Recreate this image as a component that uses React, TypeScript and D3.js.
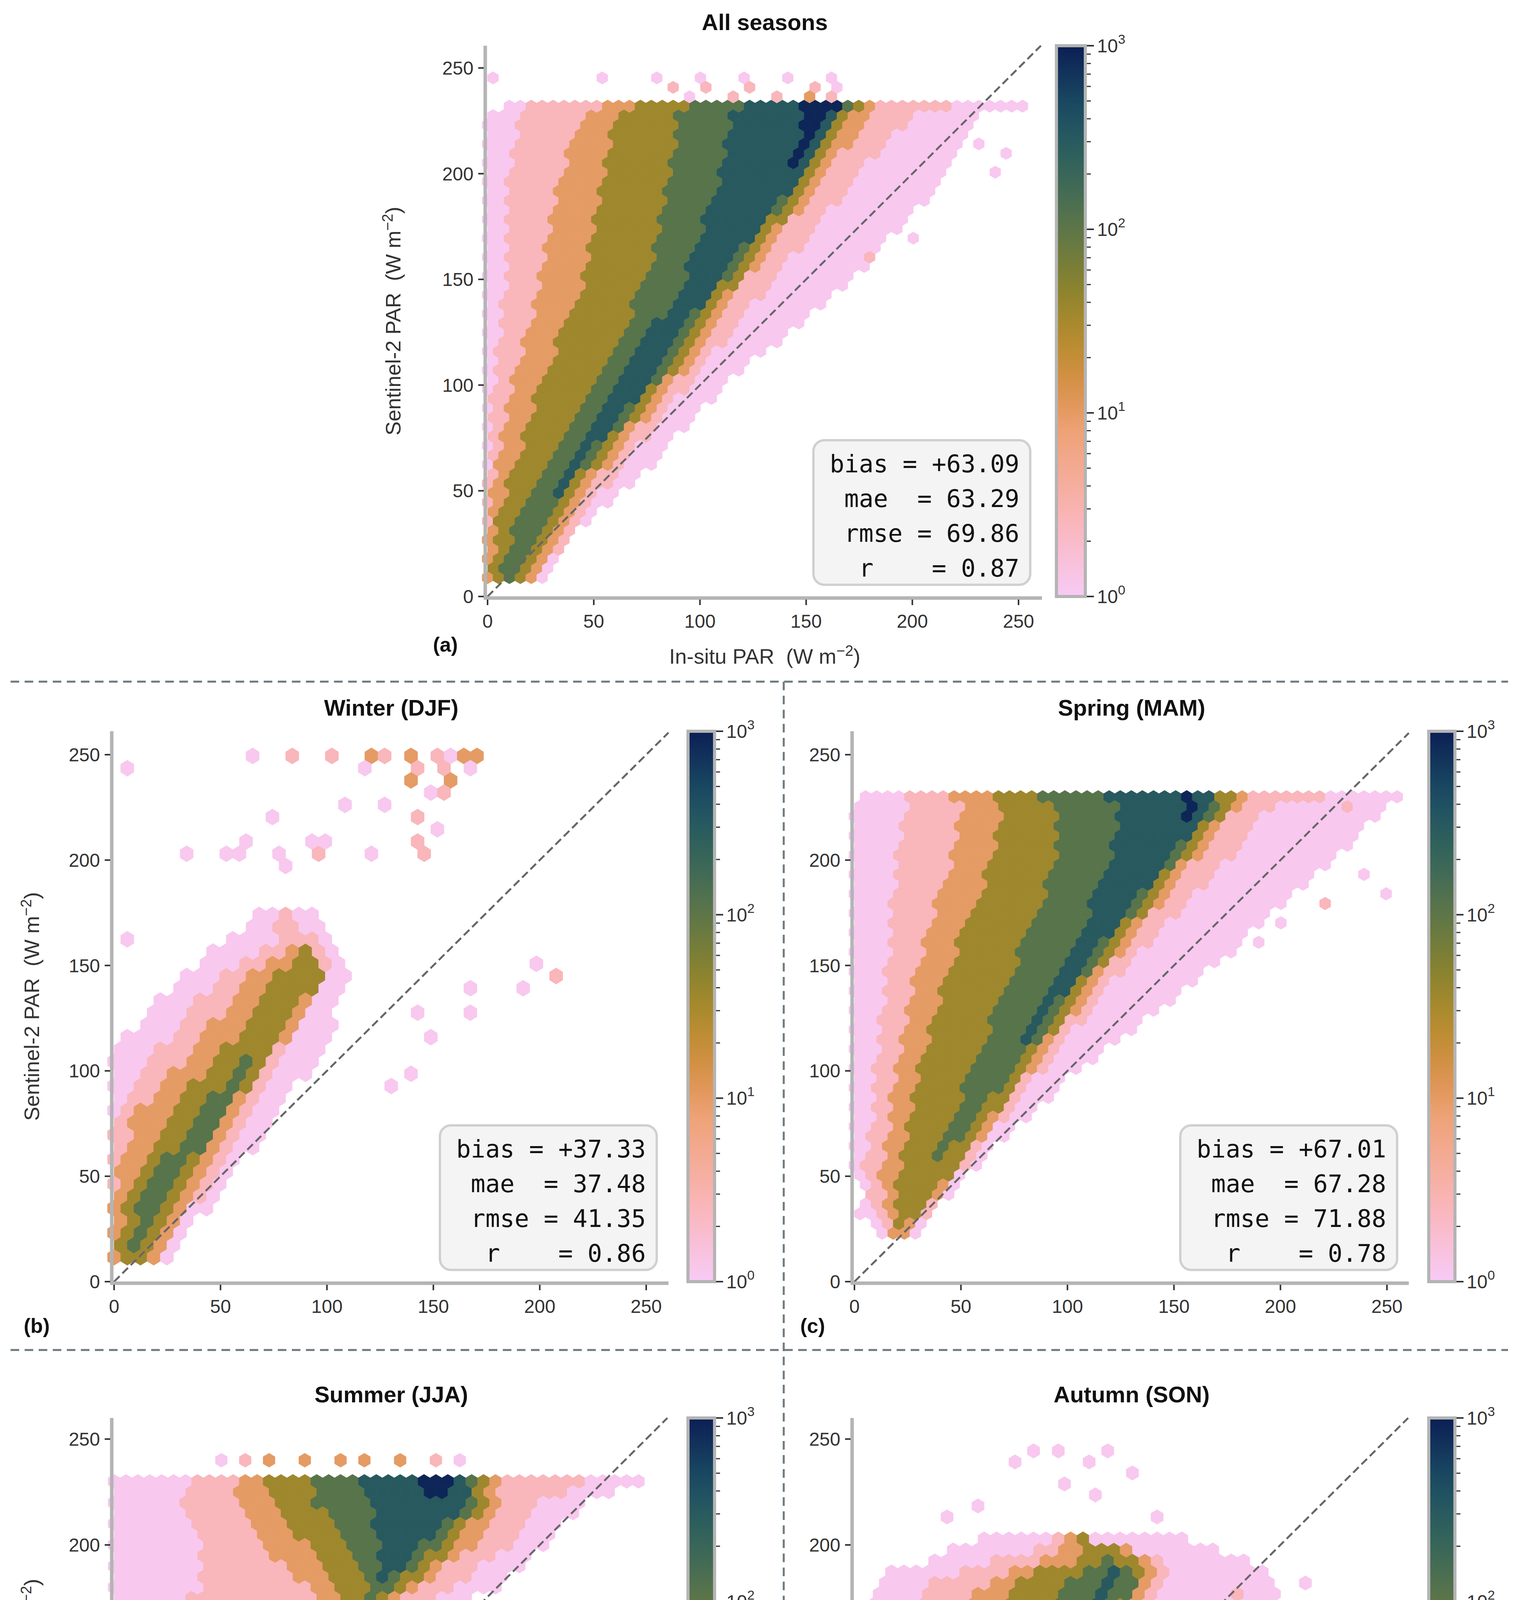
import * as d3 from "d3";

// hexbin density: per anchor row [y, l1L,l1R, l2L,l2R, ... l7L,l7R]
// level k spans x in [lkL, lkR]; equal values = level not reached
const profileA = [
  [8, 0, 30, 0, 25, 0, 22, 2, 20, 6, 15, 10, 10, 10, 10],
  [30, 0, 42, 0, 38, 0, 33, 3, 30, 12, 25, 20, 20, 20, 20],
  [60, 0, 75, 0, 62, 3, 55, 12, 50, 28, 45, 38, 42, 40, 40],
  [100, 0, 112, 3, 95, 12, 88, 25, 83, 50, 78, 62, 75, 70, 70],
  [150, 0, 172, 8, 135, 25, 122, 45, 118, 75, 112, 92, 108, 105, 105],
  [200, 0, 218, 10, 175, 35, 160, 55, 155, 85, 150, 110, 148, 140, 140],
  [228, 0, 232, 15, 200, 45, 180, 60, 172, 90, 166, 115, 164, 150, 162],
  [233, 10, 258, 20, 225, 55, 182, 75, 176, 95, 172, 125, 168, 145, 166],
];
const profileB = [
  [10, 0, 25, 0, 22, 0, 18, 2, 15, 6, 8, 8, 8, 8, 8],
  [40, 0, 48, 0, 40, 0, 34, 5, 30, 12, 24, 18, 18, 18, 18],
  [80, 0, 78, 0, 65, 10, 58, 25, 54, 40, 52, 50, 50, 50, 50],
  [110, 0, 98, 20, 82, 38, 77, 52, 73, 65, 69, 68, 68, 68, 68],
  [145, 30, 112, 50, 102, 62, 99, 76, 97, 90, 90, 90, 90, 90, 90],
  [160, 50, 102, 75, 96, 90, 90, 90, 90, 90, 90, 90, 90, 90, 90],
  [178, 70, 92, 80, 80, 80, 80, 80, 80, 80, 80, 80, 80, 80, 80],
];
const profileC = [
  [22, 10, 28, 14, 26, 18, 24, 20, 20, 20, 20, 20, 20, 20, 20],
  [50, 0, 52, 5, 48, 12, 46, 20, 44, 35, 35, 35, 35, 35, 35],
  [100, 0, 105, 10, 88, 20, 83, 30, 80, 55, 75, 70, 70, 70, 70],
  [150, 0, 170, 15, 128, 30, 120, 45, 116, 75, 112, 100, 108, 105, 105],
  [200, 0, 225, 20, 175, 45, 160, 65, 155, 95, 150, 120, 148, 140, 140],
  [225, 0, 250, 25, 195, 50, 180, 70, 175, 95, 170, 125, 166, 155, 160],
  [232, 5, 258, 20, 230, 40, 185, 60, 178, 80, 172, 115, 168, 150, 160],
];
const profileD = [
  [70, 5, 35, 20, 20, 20, 20, 20, 20, 20, 20, 20, 20, 20, 20],
  [100, 0, 55, 20, 40, 30, 30, 30, 30, 30, 30, 30, 30, 30, 30],
  [140, 0, 95, 10, 80, 50, 50, 50, 50, 50, 50, 50, 50, 50, 50],
  [168, 0, 150, 30, 135, 105, 122, 112, 116, 115, 115, 115, 115, 115, 115],
  [180, 0, 180, 40, 160, 90, 145, 105, 138, 118, 130, 125, 125, 125, 125],
  [200, 0, 205, 40, 185, 70, 168, 90, 160, 110, 152, 125, 145, 140, 140],
  [220, 0, 220, 30, 200, 60, 180, 75, 175, 95, 170, 120, 165, 150, 150],
  [233, 0, 258, 40, 230, 55, 185, 70, 178, 90, 172, 110, 168, 140, 163],
];
const profileE = [
  [8, 0, 20, 0, 18, 0, 15, 0, 12, 5, 8, 8, 8, 8, 8],
  [50, 0, 70, 0, 50, 0, 45, 8, 42, 20, 38, 32, 32, 32, 32],
  [100, 0, 135, 0, 85, 15, 80, 28, 77, 45, 73, 60, 70, 65, 65],
  [150, 0, 195, 10, 125, 35, 118, 55, 115, 75, 110, 92, 106, 100, 100],
  [185, 10, 200, 40, 145, 65, 140, 80, 138, 100, 133, 120, 126, 125, 125],
  [195, 40, 180, 75, 145, 95, 140, 110, 135, 120, 120, 120, 120, 120, 120],
  [205, 60, 150, 100, 100, 100, 100, 100, 100, 100, 100, 100, 100, 100, 100],
];

// isolated cells [x, y, level]
const outliersA = [
  [5, 245, 1], [55, 245, 1], [80, 245, 1], [100, 245, 1], [120, 245, 1], [140, 245, 1], [160, 245, 1],
  [85, 241, 2], [105, 241, 2], [125, 241, 2], [155, 241, 2], [165, 241, 1],
  [95, 237, 1], [115, 237, 2], [135, 237, 2], [150, 237, 3], [160, 237, 2],
  [230, 215, 1], [245, 210, 1], [240, 200, 1], [180, 160, 2], [200, 170, 1],
];
const outliersB = [
  [5, 245, 1], [65, 250, 1], [85, 250, 2], [100, 250, 2], [120, 250, 3], [125, 250, 2], [140, 250, 3],
  [150, 250, 2], [160, 250, 1], [165, 250, 3], [170, 250, 3], [115, 244, 1], [145, 244, 2], [155, 244, 2],
  [160, 240, 3], [170, 244, 1], [140, 238, 3], [150, 232, 1], [155, 232, 2], [110, 225, 1], [130, 226, 1],
  [145, 220, 2], [150, 214, 1], [140, 210, 2], [145, 205, 2], [75, 220, 1], [65, 210, 1], [90, 210, 1],
  [95, 205, 2], [100, 210, 1], [35, 205, 1], [50, 205, 1], [60, 205, 1], [80, 205, 1], [120, 205, 1],
  [80, 195, 1], [200, 150, 1], [210, 145, 2], [195, 140, 1], [170, 140, 1], [140, 130, 1], [150, 115, 1],
  [140, 100, 1], [130, 95, 1], [170, 130, 1], [5, 160, 1],
];
const outliersC = [[5, 55, 2], [10, 40, 2], [5, 30, 1], [240, 195, 1], [250, 185, 1], [220, 180, 2], [230, 225, 2], [200, 170, 1], [190, 160, 1]];
const outliersD = [
  [50, 238, 1], [60, 238, 2], [75, 238, 3], [90, 238, 3], [105, 238, 3], [120, 238, 3], [135, 238, 3],
  [150, 238, 2], [165, 238, 1], [30, 232, 1], [25, 75, 1], [40, 70, 1], [15, 85, 2], [30, 85, 2],
];
const outliersE = [
  [75, 240, 1], [85, 245, 1], [95, 245, 1], [110, 240, 1], [120, 245, 1], [130, 235, 1], [100, 230, 1],
  [115, 225, 1], [45, 215, 1], [140, 215, 1], [60, 220, 1], [200, 165, 1], [210, 180, 1], [195, 150, 1], [180, 175, 2],
];

const statsA = ["bias = +63.09", "mae  = 63.29", "rmse = 69.86", "r    = 0.87"];
const statsB = ["bias = +37.33", "mae  = 37.48", "rmse = 41.35", "r    = 0.86"];
const statsC = ["bias = +67.01", "mae  = 67.28", "rmse = 71.88", "r    = 0.78"];
const statsD = ["bias = +86.33", "mae  = 86.40", "rmse = 90.07", "r    = 0.55"];
const statsE = ["bias = +48.08", "mae  = 48.41", "rmse = 52.72", "r    = 0.86"];

const axisTicks = [0, 50, 100, 150, 200, 250];
const levelLog = [0, 0.05, 0.4, 1.0, 1.55, 2.05, 2.5, 2.95];

const cmapStops = [0, 0.15, 0.3, 0.38, 0.47, 0.57, 0.67, 0.77, 0.88, 1];
const cmapColors = ["#f8caf6", "#f9b4b4", "#eea276", "#d9914a", "#b58c2c", "#86822f", "#5c7649", "#36665a", "#1c4f63", "#0b1f55"];
const cmap = d3.scaleLinear<string>().domain(cmapStops).range(cmapColors).interpolate(d3.interpolateRgb);

const FONT = "'Liberation Sans', Arial, sans-serif";
const MONO = "'DejaVu Sans Mono', monospace";

function levelAt(profile: number[][], x: number, y: number) {
  if (y < profile[0][0] - 0.01 || y > profile[profile.length - 1][0] + 0.01) return 0;
  let i = 0;
  while (i < profile.length - 2 && y > profile[i + 1][0]) i++;
  const a = profile[i], b = profile[i + 1] || a;
  const t = b[0] === a[0] ? 0 : Math.max(0, Math.min(1, (y - a[0]) / (b[0] - a[0])));
  let lvl = 0;
  for (let k = 1; k <= 7; k++) {
    const L = a[2 * k - 1] + (b[2 * k - 1] - a[2 * k - 1]) * t;
    const R = a[2 * k] + (b[2 * k] - a[2 * k]) * t;
    if (R - L > 0.5 && x >= L && x <= R) lvl = k;
  }
  return lvl;
}

interface PanelProps {
  x0: number; x250: number; right: number; y0: number; y250: number; top: number;
  cb: [number, number]; profile: number[][]; outliers: number[][]; dx: number; dy: number;
  title: string; tag: string; tagPos: [number, number]; stats: string[];
  xLabel: boolean; yLabelX: number | null; id: string;
}

function Panel(p: PanelProps) {
  const xs = d3.scaleLinear().domain([0, 250]).range([p.x0, p.x250]);
  const ys = d3.scaleLinear().domain([0, 250]).range([p.y0, p.y250]);
  const xmax = xs.invert(p.right);
  const ymax = ys.invert(p.top);
  const cells = new Map<string, { x: number; y: number; l: number }>();
  for (let k = 0; k * p.dy <= 256; k++) {
    const y = k * p.dy;
    const off = (k % 2) * p.dx / 2;
    for (let c = 0; c * p.dx + off <= 258; c++) {
      const x = c * p.dx + off;
      const l = levelAt(p.profile, x, y);
      if (l > 0) cells.set(k + "_" + c, { x, y, l });
    }
  }
  p.outliers.forEach(([ox, oy, ol]) => {
    const k = Math.round(oy / p.dy);
    const off = (k % 2) * p.dx / 2;
    const c = Math.round((ox - off) / p.dx);
    const key = k + "_" + c;
    const prev = cells.get(key);
    if (!prev || prev.l < ol) cells.set(key, { x: c * p.dx + off, y: k * p.dy, l: ol });
  });
  const w = (xs(p.dx) - xs(0)) / 2;
  const h = ys(0) - ys(p.dy);
  const hexPath = `M0,${-2 * h / 3}L${w},${-h / 3}L${w},${h / 3}L0,${2 * h / 3}L${-w},${h / 3}L${-w},${-h / 3}Z`;
  const dmax = Math.min(xmax, ymax);
  const cbScale = d3.scaleLog().domain([1, 1000]).range([p.y0, p.top]);
  const minor: number[] = [];
  [1, 10, 100].forEach((b) => d3.range(2, 10).forEach((m) => minor.push(b * m)));
  const boxW = 555, boxH = 370;
  const boxX = p.right - 30 - boxW, boxY = p.y0 - 30 - boxH;
  const cx = (p.x0 + p.right) / 2;
  return (
    <g>
      <defs>
        <linearGradient id={"g" + p.id} x1="0" y1="1" x2="0" y2="0">
          {d3.range(0, 1.001, 0.05).map((t) => (
            <stop key={t} offset={t} stopColor={cmap(t)} />
          ))}
        </linearGradient>
      </defs>
      {Array.from(cells.values()).map((c, i) => (
        <path key={i} d={hexPath} transform={`translate(${xs(c.x)},${ys(c.y)})`} fill={cmap(levelLog[c.l] / 3)} stroke={cmap(levelLog[c.l] / 3)} strokeWidth={0.8} />
      ))}
      <line x1={xs(0)} y1={ys(0)} x2={xs(dmax)} y2={ys(dmax)} stroke="#666" strokeWidth={5} strokeDasharray="20,10" />
      {/* spines */}
      <line x1={p.x0 - 6} y1={p.top} x2={p.x0 - 6} y2={p.y0 + 4} stroke="#b4b4b4" strokeWidth={9} />
      <line x1={p.x0 - 10} y1={p.y0 + 4} x2={p.right} y2={p.y0 + 4} stroke="#b4b4b4" strokeWidth={9} />
      {axisTicks.map((t) => (
        <g key={"x" + t}>
          <line x1={xs(t)} x2={xs(t)} y1={p.y0 + 8} y2={p.y0 + 22} stroke="#333" strokeWidth={4} />
          <text x={xs(t)} y={p.y0 + 80} fontSize={48} fontFamily={FONT} fill="#333" textAnchor="middle">{t}</text>
          <line x1={p.x0 - 24} x2={p.x0 - 10} y1={ys(t)} y2={ys(t)} stroke="#333" strokeWidth={4} />
          <text x={p.x0 - 36} y={ys(t) + 17} fontSize={48} fontFamily={FONT} fill="#333" textAnchor="end">{t}</text>
        </g>
      ))}
      {/* stats box */}
      <rect x={boxX} y={boxY} width={boxW} height={boxH} rx={28} fill="#f4f4f4" stroke="#d0d0d0" strokeWidth={6} />
      {p.stats.map((s, i) => (
        <text key={s} x={boxX + boxW - 28} y={boxY + 82 + i * 89} fontSize={62} fontFamily={MONO} fill="#111" textAnchor="end" style={{ whiteSpace: "pre" }}>{s}</text>
      ))}
      {/* colorbar */}
      <rect x={p.cb[0]} y={p.top} width={p.cb[1] - p.cb[0]} height={p.y0 - p.top} fill={`url(#g${p.id})`} stroke="#b4b4b4" strokeWidth={8} />
      {minor.map((m) => (
        <line key={m} x1={p.cb[1] + 4} x2={p.cb[1] + 14} y1={cbScale(m)} y2={cbScale(m)} stroke="#333" strokeWidth={3} />
      ))}
      {[1, 10, 100, 1000].map((m, i) => (
        <g key={m}>
          <line x1={p.cb[1] + 4} x2={p.cb[1] + 22} y1={cbScale(m)} y2={cbScale(m)} stroke="#333" strokeWidth={4} />
          <text x={p.cb[1] + 30} y={cbScale(m) + 17} fontSize={48} fontFamily={FONT} fill="#333">
            10<tspan dy={-22} fontSize={34}>{i}</tspan>
          </text>
        </g>
      ))}
      <text x={cx} y={p.top - 40} fontSize={58} fontWeight="bold" fontFamily={FONT} textAnchor="middle" fill="#111">{p.title}</text>
      <text x={p.tagPos[0]} y={p.tagPos[1]} fontSize={52} fontWeight="bold" fontFamily={FONT} textAnchor="middle" fill="#111">{p.tag}</text>
      {p.xLabel && (
        <text x={cx} y={p.y0 + 172} fontSize={54} fontFamily={FONT} textAnchor="middle" fill="#333" style={{ whiteSpace: "pre" }}>
          In-situ PAR  (W m<tspan dy={-20} fontSize={38}>−2</tspan><tspan dy={20}>)</tspan>
        </text>
      )}
      {p.yLabelX !== null && (
        <text transform={`translate(${p.yLabelX},${(p.y0 + p.top) / 2}) rotate(-90)`} fontSize={54} fontFamily={FONT} textAnchor="middle" fill="#333" style={{ whiteSpace: "pre" }}>
          Sentinel-2 PAR  (W m<tspan dy={-20} fontSize={38}>−2</tspan><tspan dy={20}>)</tspan>
        </text>
      )}
    </g>
  );
}

export default function App() {
  const top1 = { y0: 3281, y250: 1932, top: 1872 };
  const top2 = { y0: 5039, y250: 3684, top: 3630 };
  const left = { x0: 292, x250: 1654, right: 1711, cb: [1761, 1829] as [number, number] };
  const rightC = { x0: 2187, x250: 3550, right: 3606, cb: [3657, 3724] as [number, number] };
  return (
    <svg width={3888} height={5276} style={{ display: "block", margin: "-8px 0 0 -8px", background: "#fff" }}>
      <rect width={3888} height={5276} fill="#fff" />
      <Panel id="a" x0={1248} x250={2607} right={2667} y0={1527} y250={174} top={117} cb={[2704, 2778]}
        profile={profileA} outliers={outliersA} dx={5.14} dy={4.46} title="All seasons" tag="(a)" tagPos={[1140, 1668]}
        stats={statsA} xLabel={true} yLabelX={1025} />
      <Panel id="b" {...left} {...top1} profile={profileB} outliers={outliersB} dx={6.2} dy={5.8} title="Winter (DJF)" tag="(b)"
        tagPos={[94, 3412]} stats={statsB} xLabel={false} yLabelX={100} />
      <Panel id="c" {...rightC} {...top1} profile={profileC} outliers={outliersC} dx={5.2} dy={4.6} title="Spring (MAM)" tag="(c)"
        tagPos={[2080, 3412]} stats={statsC} xLabel={false} yLabelX={null} />
      <Panel id="d" {...left} {...top2} profile={profileD} outliers={outliersD} dx={5.6} dy={5.0} title="Summer (JJA)" tag="(d)"
        tagPos={[94, 5168]} stats={statsD} xLabel={true} yLabelX={100} />
      <Panel id="e" {...rightC} {...top2} profile={profileE} outliers={outliersE} dx={5.8} dy={5.2} title="Autumn (SON)" tag="(e)"
        tagPos={[2080, 5168]} stats={statsE} xLabel={true} yLabelX={null} />
      <line x1={27} x2={3860} y1={1745} y2={1745} stroke="#6a7a80" strokeWidth={5} strokeDasharray="22,14" />
      <line x1={27} x2={3860} y1={3456} y2={3456} stroke="#6a7a80" strokeWidth={5} strokeDasharray="22,14" />
      <line x1={2006} x2={2006} y1={1745} y2={5240} stroke="#6a7a80" strokeWidth={5} strokeDasharray="22,14" />
    </svg>
  );
}
